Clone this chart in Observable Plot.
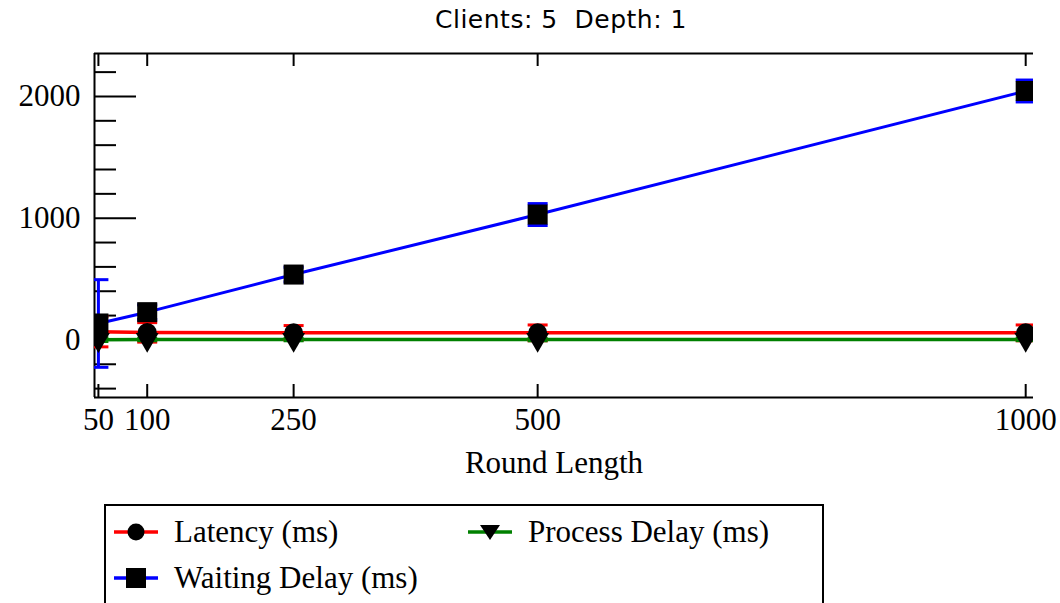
<!DOCTYPE html>
<html>
<head>
<meta charset="utf-8">
<script src="https://cdn.jsdelivr.net/npm/d3@7"></script>
<script src="https://cdn.jsdelivr.net/npm/@observablehq/plot@0.6"></script>
<style>
  body { margin: 0; background: #fff; width: 1060px; height: 603px; overflow: hidden; position: relative; }
  #title { height: 40px; width: 1060px; box-sizing: border-box; padding-left: 62px; text-align: center;
           font-family: "DejaVu Sans", sans-serif; font-size: 25px; letter-spacing: 0.5px; white-space: pre; line-height: 40px; color: #000; }
  #chart svg { display: block; }
  #legend { position: absolute; left: 104px; top: 504px; width: 716px; height: 130px; border: 2px solid #000; background: #fff; }
  .item { position: absolute; display: flex; align-items: center; height: 40px;
          font-family: "Liberation Serif", serif; font-size: 31px; color: #000; white-space: pre; }
  .item svg { margin-right: 16px; }
</style>
</head>
<body>
<div id="title">Clients: 5  Depth: 1</div>
<div id="chart"></div>
<div id="legend"></div>
<script>
// ---- data ----
const roundLength = [50, 100, 250, 500, 1000];
const latency      = [68, 62, 58, 58, 58];
const latencyErr   = [125, 80, 60, 65, 65];
const waiting      = [135, 228, 537, 1030, 2045];
const waitingErr   = [360, 60, 60, 90, 90];
const processDelay = [2, 3, 3, 3, 4];
const processErr   = [15, 10, 10, 10, 10];
const seriesNames  = ["Latency (ms)", "Waiting Delay (ms)", "Process Delay (ms)"];
const seriesColors = ["#ff0000", "#0000ff", "#008000"];
const xTicks       = [50, 100, 250, 500, 1000];
const yMajorTicks  = [0, 1000, 2000];
const yMinorTicks  = [-400, -200, 200, 400, 600, 800, 1200, 1400, 1600, 1800, 2200];
const xLabel       = "Round Length";

const xDomain = [46, 1008];
const yDomain = [-473, 2353];

// custom symbols
const hline = {draw(ctx) { ctx.moveTo(-10, 0); ctx.lineTo(10, 0); }};
const triDown = {draw(ctx, size) {
  const s = Math.sqrt(size * 4 / Math.sqrt(3));
  const h = s * Math.sqrt(3) / 2;
  ctx.moveTo(-s / 2, -h / 3); ctx.lineTo(s / 2, -h / 3); ctx.lineTo(0, 2 * h / 3); ctx.closePath();
}};

const seriesValues = [latency, waiting, processDelay];
const seriesErrs = [latencyErr, waitingErr, processErr];
const seriesSymbols = ["circle", "square", triDown];
const seriesR = [9.5, 11.3, 8.5];
const seriesWidth = [3.5, 3, 3.5];

const rows = seriesNames.flatMap((name, k) => roundLength.map((x, i) => ({
  series: name, k, x, y: seriesValues[k][i],
  lo: seriesValues[k][i] - seriesErrs[k][i],
  hi: seriesValues[k][i] + seriesErrs[k][i]
})));

const marks = [];
// frame (left, top, bottom)
marks.push(Plot.ruleX([xDomain[0]], {x: d => d, stroke: "#000", strokeWidth: 2}));
marks.push(Plot.ruleY([yDomain[0], yDomain[1]], {y: d => d, stroke: "#000", strokeWidth: 2}));
// inward ticks
marks.push(Plot.ruleY(yMajorTicks, {y: d => d, x1: xDomain[0], x2: xDomain[0], insetRight: -42, stroke: "#000", strokeWidth: 2}));
marks.push(Plot.ruleY(yMinorTicks, {y: d => d, x1: xDomain[0], x2: xDomain[0], insetRight: -22, stroke: "#000", strokeWidth: 2}));
marks.push(Plot.ruleX(xTicks, {x: d => d, y1: yDomain[0], y2: yDomain[0], insetTop: -13, stroke: "#000", strokeWidth: 2}));
marks.push(Plot.ruleX(xTicks, {x: d => d, y1: yDomain[1], y2: yDomain[1], insetBottom: -13, stroke: "#000", strokeWidth: 2}));

seriesNames.forEach((name, k) => {
  const data = rows.filter(d => d.k === k);
  marks.push(Plot.line(data, {x: "x", y: "y", stroke: seriesColors[k], strokeWidth: seriesWidth[k], clip: true}));
});
seriesNames.forEach((name, k) => {
  const data = rows.filter(d => d.k === k);
  marks.push(Plot.ruleX(data, {x: "x", y1: "lo", y2: "hi", stroke: seriesColors[k], strokeWidth: 3, clip: true}));
  marks.push(Plot.dot(data, {x: "x", y: "lo", symbol: hline, r: 5, fill: "none", stroke: seriesColors[k], strokeWidth: 3, clip: true}));
  marks.push(Plot.dot(data, {x: "x", y: "hi", symbol: hline, r: 5, fill: "none", stroke: seriesColors[k], strokeWidth: 3, clip: true}));
});
seriesNames.forEach((name, k) => {
  const data = rows.filter(d => d.k === k);
  marks.push(Plot.dot(data, {x: "x", y: "y", symbol: seriesSymbols[k], r: seriesR[k], fill: "#000", stroke: "none", clip: true}));
});
marks.push(Plot.text([xLabel], {text: d => d, frameAnchor: "bottom", dx: -10, dy: 66, lineAnchor: "middle", fill: "#000"}));

const chart = Plot.plot({
  width: 1060, height: 460,
  marginLeft: 94, marginRight: 27, marginTop: 13, marginBottom: 103,
  style: {fontFamily: "Liberation Serif", fontSize: "31px", background: "white", color: "black", overflow: "hidden"},
  x: {type: "linear", domain: xDomain, ticks: xTicks, tickSize: 0, tickPadding: 10, label: null, tickFormat: d => String(d)},
  y: {type: "linear", domain: yDomain, ticks: yMajorTicks, tickSize: 0, tickPadding: 14, label: null, tickFormat: d => String(d)},
  marks
});
document.getElementById("chart").appendChild(chart);

// ---- legend ----
const legend = document.getElementById("legend");
const legendPos = [[8, 6], [8, 52], [362, 6]];
const legendOrder = [0, 1, 2];
legendOrder.forEach((k, j) => {
  const item = document.createElement("div");
  item.className = "item";
  item.style.left = legendPos[j][0] + "px";
  item.style.top = legendPos[j][1] + "px";
  const sym = k === 0
    ? '<circle cx="22" cy="10" r="8.5" fill="#000"/>'
    : k === 1
      ? '<rect x="12" y="0" width="20" height="20" fill="#000"/>'
      : '<path d="M12,3 L32,3 L22,18 Z" fill="#000"/>';
  item.innerHTML = `<svg width="44" height="20"><line x1="0" x2="44" y1="10" y2="10" stroke="${seriesColors[k]}" stroke-width="3.5"/>${sym}</svg><span></span>`;
  item.querySelector("span").textContent = seriesNames[k];
  legend.appendChild(item);
});
</script>
</body>
</html>
